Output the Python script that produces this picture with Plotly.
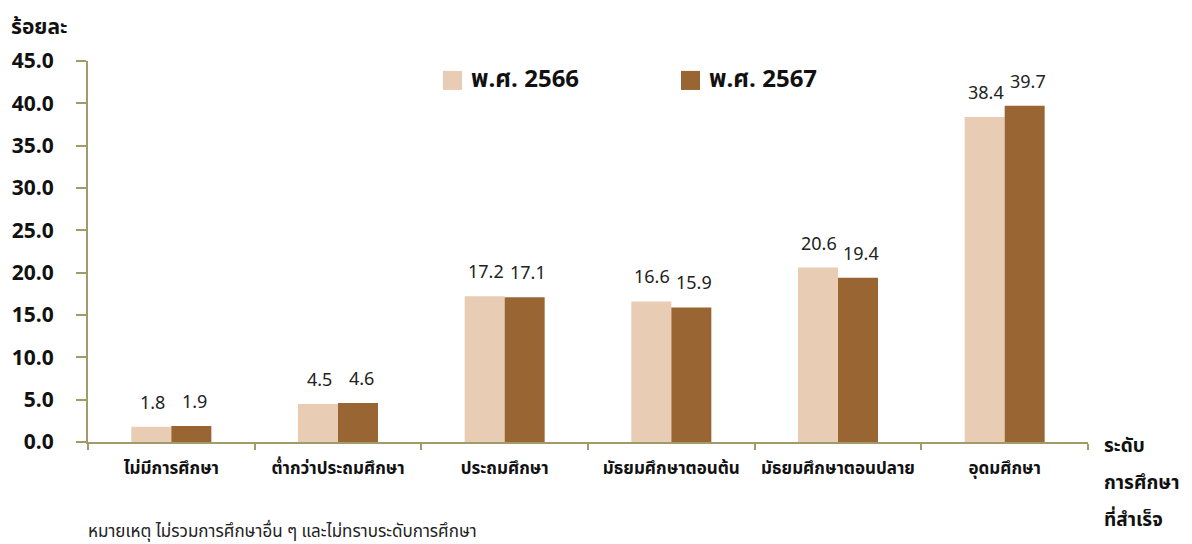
import plotly.graph_objects as go

categories = ["ไม่มีการศึกษา", "ต่ำกว่าประถมศึกษา", "ประถมศึกษา",
              "มัธยมศึกษาตอนต้น", "มัธยมศึกษาตอนปลาย", "อุดมศึกษา"]
series_names = ["พ.ศ. 2566", "พ.ศ. 2567"]
values_2566 = [1.8, 4.5, 17.2, 16.6, 20.6, 38.4]
values_2567 = [1.9, 4.6, 17.1, 15.9, 19.4, 39.7]
y_ticks = [0, 5, 10, 15, 20, 25, 30, 35, 40, 45]
y_tick_labels = ["0.0", "5.0", "10.0", "15.0", "20.0", "25.0", "30.0", "35.0", "40.0", "45.0"]
x_title_lines = ["ระดับ", "การศึกษา", "ที่สำเร็จ"]
y_title = "ร้อยละ"
footnote = "หมายเหตุ ไม่รวมการศึกษาอื่น ๆ และไม่ทราบระดับการศึกษา"

FONT = "Noto Sans Thai, Tahoma, Leelawadee UI, sans-serif"
LIGHT = "#E8CDB4"
DARK = "#996633"
AXIS = "#A39A6A"

fig = go.Figure()
fig.add_bar(x=categories, y=values_2566, name=series_names[0], marker_color=LIGHT,
            marker_line_width=0, showlegend=False)
fig.add_bar(x=categories, y=values_2567, name=series_names[1], marker_color=DARK,
            marker_line_width=0, showlegend=False)

annotations = []
for i, cat in enumerate(categories):
    for vals, shift in ((values_2566, -19), (values_2567, 23)):
        annotations.append(dict(x=cat, y=vals[i], xref="x", yref="y", text=f"{vals[i]:.1f}",
                                showarrow=False, yanchor="bottom", xshift=shift, yshift=8,
                                font=dict(family=FONT, size=18, color="#222222")))

legend_items = [(series_names[0], LIGHT, 0.355), (series_names[1], DARK, 0.593)]
shapes = []
for name, col, px in legend_items:
    shapes.append(dict(type="rect", xref="paper", yref="paper", x0=px, x1=px + 0.019,
                       y0=0.924, y1=0.974, fillcolor=col, line_width=0))
    annotations.append(dict(x=px + 0.026, y=0.949, xref="paper", yref="paper",
                            text=f"<b>{name}</b>", showarrow=False, xanchor="left",
                            yanchor="middle", font=dict(family=FONT, size=24, color="#111111")))

annotations.append(dict(x=-0.079, y=1.089, xref="paper", yref="paper", text=f"<b>{y_title}</b>",
                        showarrow=False, xanchor="left", yanchor="middle",
                        font=dict(family=FONT, size=21, color="#111111")))
for line, py in zip(x_title_lines, [-0.013, -0.110, -0.205]):
    annotations.append(dict(x=1.014, y=py, xref="paper", yref="paper",
                            text=f"<b>{line}</b>", showarrow=False,
                            xanchor="left", yanchor="middle", align="left",
                            font=dict(family=FONT, size=19, color="#111111")))
annotations.append(dict(x=-0.001, y=-0.235, xref="paper", yref="paper",
                        text=footnote, showarrow=False, xanchor="left", yanchor="middle",
                        borderpad=0, font=dict(family=FONT, size=17, color="#222222")))

fig.update_layout(
    width=1184, height=536,
    margin=dict(l=80, r=104, t=53, b=102, autoexpand=False),
    barmode="group", bargap=0.52, bargroupgap=0,
    plot_bgcolor="white", paper_bgcolor="white",
    font=dict(family=FONT, color="#111111"),
    annotations=annotations, shapes=shapes,
    showlegend=False,
)
fig.update_xaxes(showline=True, linecolor=AXIS, linewidth=2, ticks="outside",
                 tickson="boundaries", ticklen=6, tickcolor=AXIS, tickwidth=2,
                 tickfont=dict(family=FONT, size=17, color="#111111"),
                 ticklabelstandoff=10, automargin=False,
                 tickprefix="<b>", ticksuffix="</b>", showgrid=False)
fig.update_yaxes(range=[0, 45], tickvals=y_ticks, ticktext=[f"<b>{t}</b>" for t in y_tick_labels],
                 showline=True, linecolor=AXIS, linewidth=2, ticks="outside", ticklen=10,
                 tickcolor=AXIS, tickwidth=2, showgrid=False, zeroline=False,
                 ticklabelstandoff=18, automargin=False,
                 tickfont=dict(family=FONT, size=21, color="#111111"))

fig.write_html("out.html")
